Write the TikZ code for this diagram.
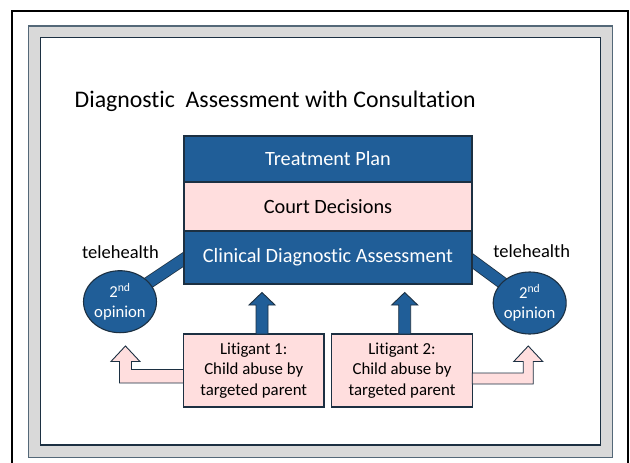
\documentclass[tikz,border=0pt]{standalone}
\usepackage{fontspec}
\setmainfont{Carlito}[Ligatures={NoCommon}]
\usepackage{tikz}
\usetikzlibrary{positioning,calc,backgrounds,shapes.geometric}
\definecolor{dxblue}{RGB}{32,94,152}
\definecolor{dxpink}{RGB}{255,222,222}
\definecolor{dxline}{RGB}{28,48,66}
\definecolor{dxgray}{RGB}{217,217,217}
\definecolor{dxframe}{RGB}{84,104,120}
\tikzset{
  bluebox/.style={draw=dxline, line width=1.1pt, fill=dxblue, text=white, minimum width=288pt, inner sep=0pt, outer sep=0pt, font=\fontsize{20.3}{24}\selectfont},
  pinkbox/.style={bluebox, fill=dxpink, text=black},
  litbox/.style={draw=dxline, line width=1.1pt, fill=dxpink, minimum width=140.5pt, minimum height=73pt, inner sep=0pt, outer sep=0pt, align=center, font=\fontsize{16.8}{20.5}\selectfont},
  opinion/.style={ellipse, draw=dxline, line width=1.1pt, fill=dxblue, text=white, minimum width=66pt, minimum height=62pt, inner sep=0pt, align=center, font=\fontsize{16.7}{20}\selectfont},
  tele/.style={inner sep=0pt, font=\fontsize{18.5}{22}\selectfont},
  link/.style={draw=dxline, line width=0.8pt, double=dxblue, double distance=11pt},
  uparrow/.style={draw=dxline, line width=0.9pt, fill=dxblue},
  hollow/.style={draw=dxline, line width=0.9pt, fill=dxpink},
}

\begin{document}
\begin{tikzpicture}[x=1pt, y=-1pt]
  \useasboundingbox (0,0) rectangle (630,463);
  % page frame
  \begin{scope}[on background layer]
    \fill[white] (0,0) rectangle (630,463);
    \draw[line width=2pt] (11.5,11) rectangle (627.7,475);
    \draw[draw=dxframe, line width=1.3pt, fill=dxgray] (28.3,26) rectangle (612.7,457.7);
    \draw[draw=dxline, line width=1.3pt, fill=white] (40.7,37.3) rectangle (600.7,445);
  \end{scope}

  \node[anchor=base west, inner sep=0pt, font=\fontsize{23.8}{28}\selectfont] (title) at (74.5,107) {Diagnostic\ \ Assessment with Consultation};

  \node[bluebox, minimum height=46pt] (treat) at (328,159) {Treatment Plan};
  \node[pinkbox, minimum height=49pt, below=0pt of treat] (court) {Court Decisions};
  \node[bluebox, minimum height=53pt, below=0pt of court] (clin) {Clinical Diagnostic Assessment};

  \node[opinion] (opL) at (120,301.7) {2\textsuperscript{nd}\\opinion};
  \node[opinion] (opR) at (529.7,303) {2\textsuperscript{nd}\\opinion};
  \node[tele] (teleL) at (120.5,252.5) {telehealth};
  \node[tele] (teleR) at (531.7,251.5) {telehealth};

  \node[litbox] (lit1) at (253.7,370.5) {Litigant 1:\\Child abuse by\\targeted parent};
  \node[litbox] (lit2) at (402,370.5) {Litigant 2:\\Child abuse by\\targeted parent};

  \begin{scope}[on background layer]
    \draw[link] (opL.center) -- ($(opL.center)!1.25!([yshift=-1.5pt]clin.west)$);
    \draw[link] (opR.center) -- ($(opR.center)!1.25!([yshift=-3pt]clin.east)$);
  \end{scope}

  \draw[uparrow] ($(lit1.north)+(2.3,0)$) -- ++(0,-29) -- ++(-7,0) -- ++(13,-12.5) -- ++(13,12.5) -- ++(-7,0) -- ++(0,29) -- cycle;
  \draw[uparrow] ($(lit2.north)+(-3.3,0)$) -- ++(0,-29) -- ++(-7,0) -- ++(13,-12.5) -- ++(13,12.5) -- ++(-7,0) -- ++(0,29) -- cycle;

  \draw[hollow] (lit1.west) ++(0,-1) -- ++(-52,0) -- ++(0,-8) -- ++(8.5,0) -- ++(-14.5,-15.5) -- ++(-14.5,15.5) -- ++(8.5,0) -- ++(0,21.5) -- ++(64,0) -- cycle;
  \draw[hollow] (lit2.east) ++(0,2.5) -- ++(51,0) -- ++(0,-11.5) -- ++(-9.5,0) -- ++(14.5,-15.5) -- ++(14.5,15.5) -- ++(-9.5,0) -- ++(0,22.5) -- ++(-61,0) -- cycle;
\end{tikzpicture}
\end{document}
